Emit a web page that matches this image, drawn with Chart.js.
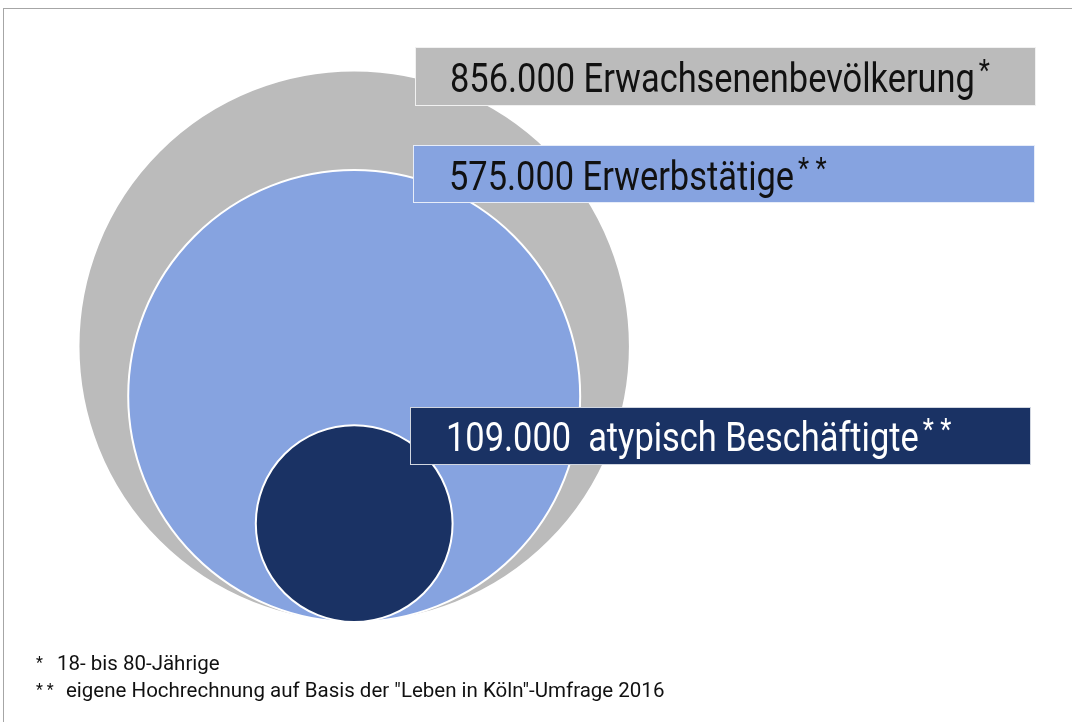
<!DOCTYPE html>
<html>
<head>
<meta charset="utf-8">
<script src="https://cdn.jsdelivr.net/npm/chart.js@4.4.1/dist/chart.umd.min.js"></script>
<style>
html, body { margin: 0; padding: 0; background: #fff; }
#wrap { position: relative; width: 1072px; height: 722px; overflow: hidden; }
#frame { position: absolute; left: 3px; top: 8px; right: -4px; bottom: -4px; border: 1px solid #a6a6a6; }
canvas { position: absolute; left: 0; top: 0; }
</style>
</head>
<body>
<div id="wrap">
  <div id="frame"></div>
  <canvas id="chart" width="1072" height="722"></canvas>
</div>
<script>
// Data ==========================
const groups = ["Erwachsenenbevölkerung", "Erwerbstätige", "atypisch Beschäftigte"];
const valuesK = [856, 575, 109]; // in Tausend
const valueLabels = ["856.000", "575.000", "109.000 "];
const marks = ["*", "* *", "* *"];
const colors = ["#bbbbbb", "#86a3e0", "#1a3264"];
const textColors = ["#111111", "#111111", "#ffffff"];
const notes = [
    ["*", "18- bis 80-Jährige"],
    ["* *", "eigene Hochrechnung auf Basis der \"Leben in Köln\"-Umfrage 2016"]
];

// Layout ==========================
const FONT = "Roboto, 'Liberation Sans', sans-serif";
const squeeze = 0.86;
const boxes = [
    { x: 415, y: 47, w: 621, h: 59, tx: 450, base: 92 },
    { x: 413, y: 145, w: 622, h: 58, tx: 449, base: 190 },
    { x: 410, y: 407, w: 621, h: 58, tx: 446, base: 451 }
];

function squeezedText(ctx, txt, x, y, font, sq) {
    ctx.save();
    ctx.font = font;
    ctx.translate(x, y);
    ctx.scale(sq, 1);
    ctx.fillText(txt, 0, 0);
    const w = ctx.measureText(txt).width * sq;
    ctx.restore();
    return w;
}

const labelBoxes = {
    id: "labelBoxes",
    afterDatasetsDraw(chart) {
        const ctx = chart.ctx;
        ctx.save();
        ctx.textBaseline = "alphabetic";
        boxes.forEach((b, i) => {
            ctx.fillStyle = colors[i];
            ctx.fillRect(b.x, b.y, b.w, b.h);
            ctx.strokeStyle = "rgba(255,255,255,0.8)";
            ctx.lineWidth = 1;
            ctx.strokeRect(b.x + 0.5, b.y + 0.5, b.w - 1, b.h - 1);

            ctx.fillStyle = textColors[i];
            const w = squeezedText(ctx, valueLabels[i] + " " + groups[i], b.tx, b.base, "40px " + FONT, squeeze);
            squeezedText(ctx, marks[i], b.tx + w + 4, b.base - 12, "30px " + FONT, squeeze);
        });

        ctx.fillStyle = "#111111";
        notes.forEach((n, i) => {
            const y = 670 + i * 27;
            squeezedText(ctx, n[0], 36, y - 2, "16px " + FONT, 1);
            squeezedText(ctx, n[1], i === 0 ? 57 : 66, y, "20.5px " + FONT, 1);
        });
        ctx.restore();
    }
};

// Chart ==========================
const ctx = document.getElementById("chart").getContext("2d");

const chart = new Chart(ctx, {
    type: "bubble",
    data: {
        datasets: [{
            label: "Köln",
            data: valuesK.map((v, i) => ({ x: 0, y: Math.sqrt(v), r: 0, name: groups[i] })),
            backgroundColor: colors,
            hoverBackgroundColor: colors,
            borderColor: "#ffffff",
            borderWidth: 2,
            hoverBorderWidth: 2,
            clip: false
        }]
    },
    options: {
        responsive: false,
        animation: false,
        layout: { autoPadding: false, padding: { top: 0, bottom: 100, left: 0, right: 0 } },
        plugins: { legend: { display: false }, tooltip: { enabled: false } },
        scales: {
            x: { display: false, min: -37.6, max: 76.2 },
            y: { display: false, min: 0, max: 66 }
        }
    },
    plugins: [labelBoxes]
});

// bubbles stand on y = 0, radius in the same units as the y scale (area ~ value)
const yScale = chart.scales.y;
chart.data.datasets[0].data.forEach(p => {
    p.r = yScale.getPixelForValue(0) - yScale.getPixelForValue(p.y);
});
chart.update();
</script>
</body>
</html>
